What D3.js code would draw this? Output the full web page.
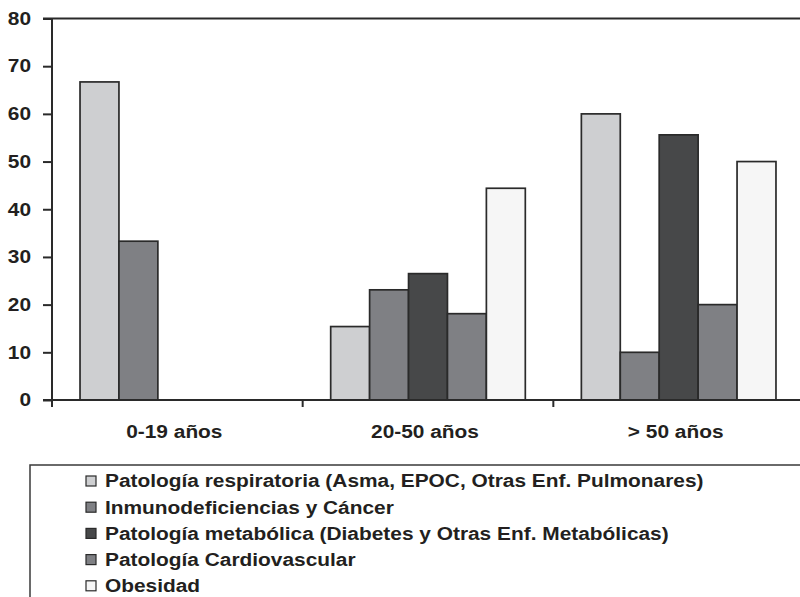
<!DOCTYPE html>
<html>
<head>
<meta charset="utf-8">
<script src="https://cdn.jsdelivr.net/npm/d3@7"></script>
<style>
  html, body { margin: 0; padding: 0; background: #fff; }
  svg { display: block; }
  text { font-family: "Liberation Sans", Arial, sans-serif; font-weight: bold; fill: #231f20; }
</style>
</head>
<body>
<svg id="chart" width="800" height="597"></svg>
<script>
const categories = ["0-19 años", "20-50 años", "> 50 años"];
const seriesNames = [
  "Patología respiratoria (Asma, EPOC, Otras Enf. Pulmonares)",
  "Inmunodeficiencias y Cáncer",
  "Patología metabólica (Diabetes y Otras Enf. Metabólicas)",
  "Patología Cardiovascular",
  "Obesidad"
];
const respiratoria   = [66.7, 15.4, 60.0];
const inmuno         = [33.3, 23.1, 10.0];
const metabolica     = [0, 26.5, 55.6];
const cardiovascular = [0, 18.1, 20.0];
const obesidad       = [0, 44.4, 50.0];
const yTicks = [0, 10, 20, 30, 40, 50, 60, 70, 80];
const colors = ["#cecfd1", "#7f8084", "#474849", "#7f8084", "#f6f6f6"];

const seriesValues = [respiratoria, inmuno, metabolica, cardiovascular, obesidad];
const SX = 1.16; // horizontal stretch of the lettering
const svg = d3.select("#chart");

const x0 = d3.scaleBand().domain(categories).range([52, 804]).paddingInner(0).paddingOuter(0);
const x1 = d3.scaleBand().domain(seriesNames).range([0, x0.bandwidth()]).paddingInner(0).paddingOuter(0.72);
const y = d3.scaleLinear().domain([0, 80]).range([400, 18.5]);

// top frame line at 80
svg.append("line").attr("x1", 43).attr("x2", 800).attr("y1", y(80)).attr("y2", y(80))
  .attr("stroke", "#2a2a2a").attr("stroke-width", 2);

// bars
const groups = svg.append("g").selectAll("g").data(categories).join("g")
  .attr("transform", d => `translate(${x0(d)},0)`);
groups.selectAll("rect")
  .data((c, ci) => seriesNames.map((s, si) => ({ s, si, v: seriesValues[si][ci] })).filter(d => d.v > 0))
  .join("rect")
  .attr("x", d => x1(d.s))
  .attr("width", x1.bandwidth())
  .attr("y", d => y(d.v))
  .attr("height", d => y(0) - y(d.v))
  .attr("fill", d => colors[d.si])
  .attr("stroke", "#2a2a2a")
  .attr("stroke-width", 1.7);

// y axis
const yAxis = svg.append("g").attr("transform", "translate(52,0)")
  .call(d3.axisLeft(y).tickValues(yTicks).tickSize(9).tickPadding(12).tickFormat(d3.format("d")));
yAxis.select(".domain").attr("d", `M0,${y(80)}V407`).attr("stroke", "#2a2a2a").attr("stroke-width", 2);
yAxis.selectAll(".tick line").attr("stroke", "#2a2a2a").attr("stroke-width", 2);
yAxis.selectAll(".tick text").attr("font-size", 18).attr("font-family", "Liberation Sans, Arial, sans-serif")
  .attr("font-weight", "bold").attr("fill", "#231f20")
  .attr("x", -21 / SX).attr("transform", `scale(${SX},1)`);

// x axis
const xAxisG = svg.append("g").attr("transform", `translate(0,${y(0)})`);
xAxisG.append("line").attr("x1", 43).attr("x2", 800).attr("y1", 0).attr("y2", 0)
  .attr("stroke", "#2a2a2a").attr("stroke-width", 2);
xAxisG.selectAll("line.tk").data(categories).join("line").attr("class", "tk")
  .attr("x1", d => x0(d)).attr("x2", d => x0(d)).attr("y1", 0).attr("y2", 7)
  .attr("stroke", "#2a2a2a").attr("stroke-width", 2);
xAxisG.selectAll("text").data(categories).join("text")
  .attr("transform", d => `translate(${x0(d) + x0.bandwidth() / 2 - 3},38) scale(${SX},1)`)
  .attr("text-anchor", "middle")
  .attr("font-size", 18)
  .text(d => d);

// legend
const lg = svg.append("g");
lg.append("rect").attr("x", 30).attr("y", 465).attr("width", 800).attr("height", 200)
  .attr("fill", "none").attr("stroke", "#3a3a3a").attr("stroke-width", 1.5);
const items = lg.selectAll("g.item").data(seriesNames).join("g").attr("class", "item")
  .attr("transform", (d, i) => `translate(86,${481 + i * 26.2})`);
items.append("rect").attr("x", 0).attr("y", -5).attr("width", 10).attr("height", 10)
  .attr("fill", (d, i) => colors[i]).attr("stroke", "#2a2a2a").attr("stroke-width", 1.2);
items.append("text").attr("transform", `translate(19,0) scale(${SX},1)`).attr("dy", "0.35em")
  .attr("font-size", 18).text(d => d);
</script>
</body>
</html>
